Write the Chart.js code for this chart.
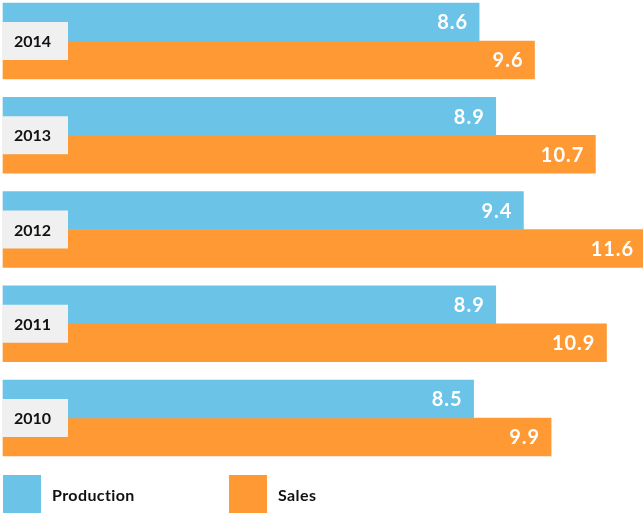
<!DOCTYPE html>
<html>
<head>
<meta charset="utf-8">
<script src="https://cdn.jsdelivr.net/npm/chart.js@4/dist/chart.umd.min.js"></script>
<style>
  html, body { margin: 0; padding: 0; background: #fff; }
  #wrap { position: relative; width: 643px; height: 513px; overflow: hidden; }
  #legend { position: absolute; left: 0; top: 475px; height: 38px; width: 643px; font-family: Lato, "Open Sans", sans-serif; font-weight: bold; font-size: 16px; letter-spacing: 0.4px; color: #111; }
  .item { position: absolute; top: 0; height: 38px; display: flex; align-items: center; }
  .sw { width: 38px; height: 38px; margin-right: 11px; }
</style>
</head>
<body>
<div id="wrap">
  <canvas id="c" width="643" height="513"></canvas>
  <div id="legend"></div>
</div>
<script>
const categories = ['2014', '2013', '2012', '2011', '2010'];
const production = [8.6, 8.9, 9.4, 8.9, 8.5];
const sales = [9.6, 10.7, 11.6, 10.9, 9.9];
const seriesNames = ['Production', 'Sales'];
const seriesColors = ['#6CC3E8', '#FF9933'];

const FONT = 'Lato, "Open Sans", sans-serif';

const overlay = {
  id: 'overlay',
  afterDatasetsDraw(chart) {
    const ctx = chart.ctx;
    const y = chart.scales.y;
    ctx.save();
    // value labels
    chart.data.datasets.forEach((ds, di) => {
      const meta = chart.getDatasetMeta(di);
      meta.data.forEach((bar, i) => {
        ctx.fillStyle = '#ffffff';
        ctx.font = 'bold 20px ' + FONT;
        ctx.letterSpacing = '1px';
        ctx.textAlign = 'right';
        ctx.textBaseline = 'middle';
        ctx.fillText(ds.data[i].toFixed(1), bar.x - 11, bar.y + 1);
      });
    });
    // year boxes
    categories.forEach((c, i) => {
      const cy = y.getPixelForValue(i);
      ctx.fillStyle = '#F0F0F0';
      ctx.fillRect(2, cy - 19, 66, 38);
      ctx.fillStyle = '#111111';
      ctx.font = 'bold 16px ' + FONT;
      ctx.letterSpacing = '0px';
      ctx.textAlign = 'left';
      ctx.textBaseline = 'middle';
      ctx.fillText(c, 14, cy + 1);
    });
    ctx.restore();
  }
};

new Chart(document.getElementById('c'), {
  type: 'bar',
  data: {
    labels: categories,
    datasets: [
      { label: seriesNames[0], data: production, backgroundColor: seriesColors[0], barThickness: 38, clip: false },
      { label: seriesNames[1], data: sales, backgroundColor: seriesColors[1], barThickness: 38, clip: false }
    ]
  },
  options: {
    indexAxis: 'y',
    responsive: false,
    animation: false,
    layout: { padding: { top: 41, bottom: 95, left: 3, right: 0 } },
    scales: {
      x: { display: false, min: 0, max: 11.56, grid: { display: false } },
      y: { display: false, offset: false, grid: { display: false } }
    },
    plugins: { legend: { display: false }, tooltip: { enabled: false } }
  },
  plugins: [overlay]
});

const lg = document.getElementById('legend');
const legendX = [3, 229];
seriesNames.forEach((n, i) => {
  const it = document.createElement('div');
  it.className = 'item';
  it.style.left = legendX[i] + 'px';
  it.innerHTML = '<div class="sw" style="background:' + seriesColors[i] + '"></div><span>' + n + '</span>';
  lg.appendChild(it);
});
</script>
</body>
</html>
